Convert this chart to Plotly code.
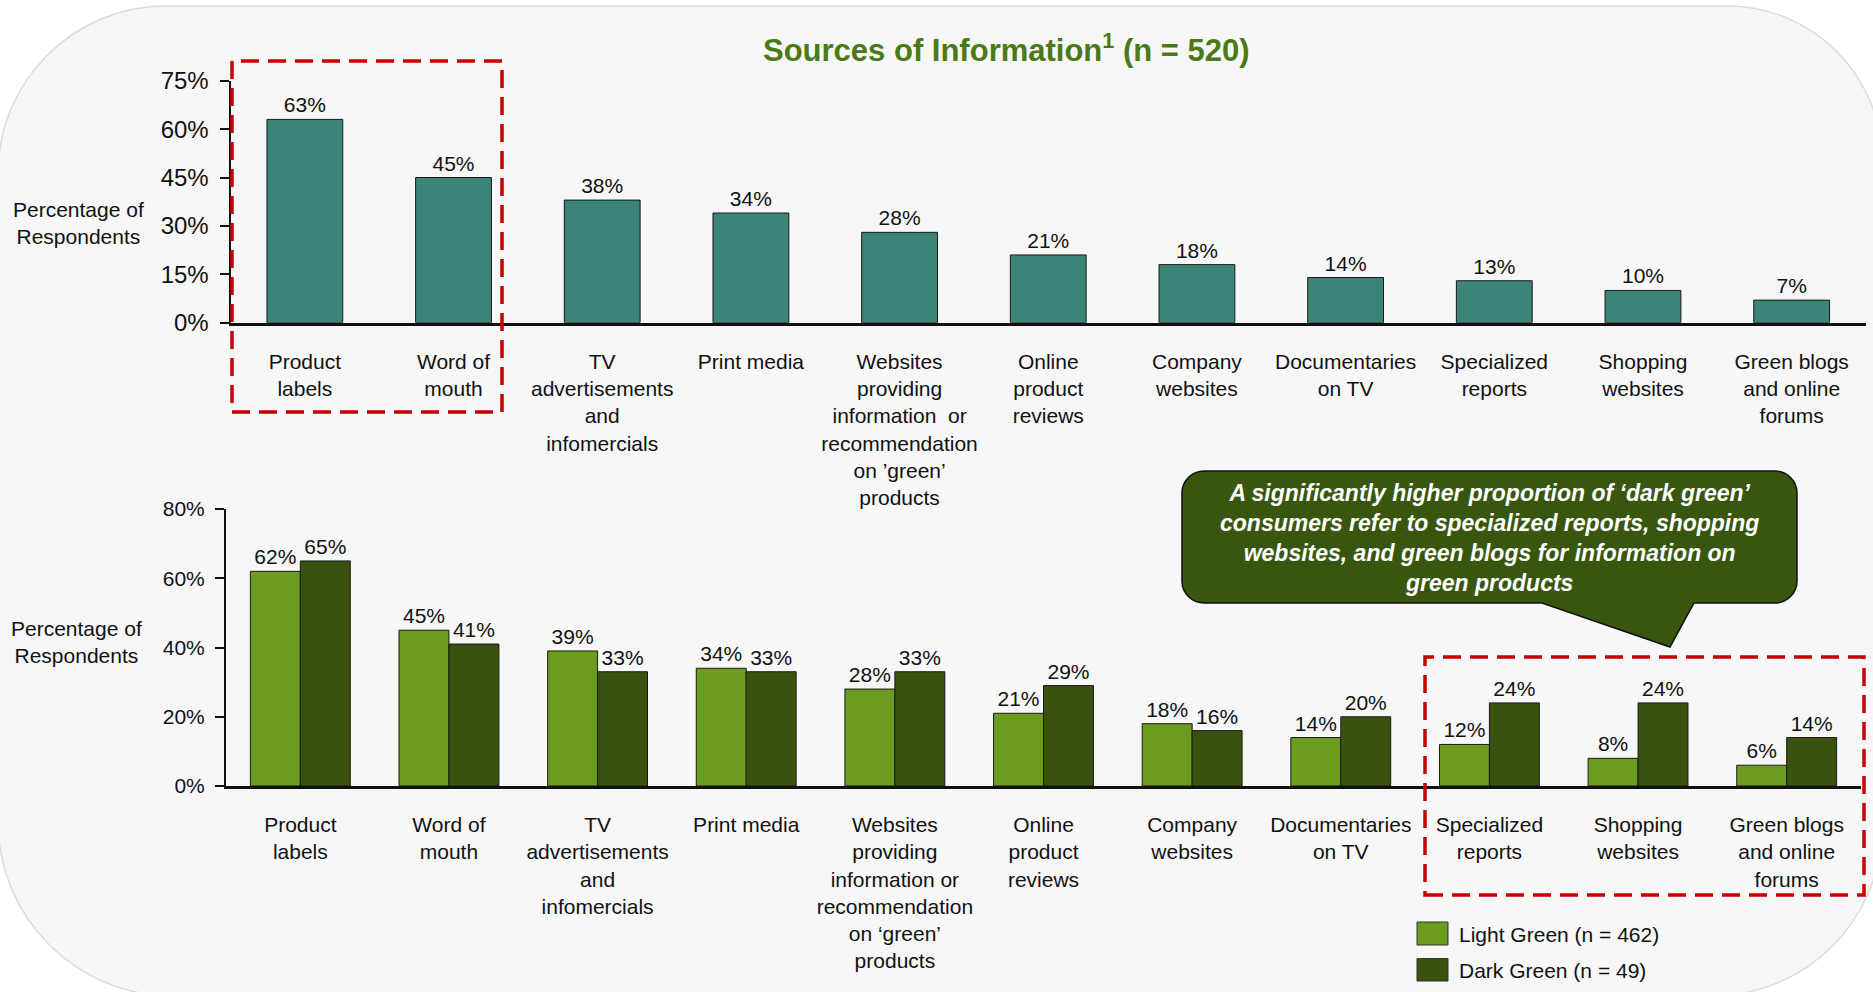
import plotly.graph_objects as go

W, H = 1873, 992

# ---------------- data ----------------
categories = ["Product labels", "Word of mouth", "TV advertisements and infomercials",
              "Print media", "Websites providing information or recommendation on green products",
              "Online product reviews", "Company websites", "Documentaries on TV",
              "Specialized reports", "Shopping websites", "Green blogs and online forums"]

top_ticktext = ["Product<br>labels", "Word of<br>mouth", "TV<br>advertisements<br>and<br>infomercials",
                "Print media", "Websites<br>providing<br>information  or<br>recommendation<br>on \u2019green\u2019<br>products",
                "Online<br>product<br>reviews", "Company<br>websites", "Documentaries<br>on TV",
                "Specialized<br>reports", "Shopping<br>websites", "Green blogs<br>and online<br>forums"]

bottom_ticktext = ["Product<br>labels", "Word of<br>mouth", "TV<br>advertisements<br>and<br>infomercials",
                   "Print media", "Websites<br>providing<br>information or<br>recommendation<br>on \u2018green\u2019<br>products",
                   "Online<br>product<br>reviews", "Company<br>websites", "Documentaries<br>on TV",
                   "Specialized<br>reports", "Shopping<br>websites", "Green blogs<br>and online<br>forums"]

all_respondents = [63, 45, 38, 34, 28, 21, 18, 14, 13, 10, 7]
light_green = [62, 45, 39, 34, 28, 21, 18, 14, 12, 8, 6]
dark_green = [65, 41, 33, 33, 33, 29, 16, 20, 24, 24, 14]

top_ticks = [0, 15, 30, 45, 60, 75]
bottom_ticks = [0, 20, 40, 60, 80]

legend_names = ["Light Green (n = 462)", "Dark Green (n = 49)"]

# ---------------- style ----------------
FONT = "Liberation Sans, Arial, sans-serif"
TEAL = "#3a8578"
LIGHT = "#6b9b1f"
DARK = "#39530f"
OUTLINE = "#1a1a1a"
RED = "#c80000"


def px(x):
    return x / W


def py(y):
    return 1 - y / H


def path_from(cmds):
    out = []
    for c in cmds:
        op = c[0]
        coords = [f"{px(x):.5f},{py(y):.5f}" for (x, y) in c[1:]]
        out.append(op + " " + " ".join(coords) if coords else op)
    return " ".join(out)


def rounded_rect_cmds(x0, y0, x1, y1, rtl, rtr, rbr, rbl):
    k = 0.5523
    return [
        ("M", (x0 + rtl, y0)),
        ("L", (x1 - rtr, y0)),
        ("C", (x1 - rtr + k * rtr, y0), (x1, y0 + rtr - k * rtr), (x1, y0 + rtr)),
        ("L", (x1, y1 - rbr)),
        ("C", (x1, y1 - rbr + k * rbr), (x1 - rbr + k * rbr, y1), (x1 - rbr, y1)),
        ("L", (x0 + rbl, y1)),
        ("C", (x0 + rbl - k * rbl, y1), (x0, y1 - rbl + k * rbl), (x0, y1 - rbl)),
        ("L", (x0, y0 + rtl)),
        ("C", (x0, y0 + rtl - k * rtl), (x0 + rtl - k * rtl, y0), (x0 + rtl, y0)),
        ("Z",),
    ]


fig = go.Figure()

# top chart
fig.add_trace(go.Bar(
    x=categories, y=all_respondents, xaxis="x", yaxis="y",
    width=0.51, offset=-0.255,
    marker=dict(color=TEAL, line=dict(color=OUTLINE, width=1)),
    text=[f"{v}%" for v in all_respondents], textposition="outside",
    textfont=dict(family=FONT, size=21, color="#111111"),
    cliponaxis=False, showlegend=False, hoverinfo="x+y", constraintext="none",
))

# bottom chart
fig.add_trace(go.Bar(
    x=categories, y=light_green, xaxis="x2", yaxis="y2", name=legend_names[0],
    width=0.336, offset=-0.336,
    marker=dict(color=LIGHT, line=dict(color=OUTLINE, width=1)),
    text=[f"{v}%" for v in light_green], textposition="outside",
    textfont=dict(family=FONT, size=21, color="#111111"),
    cliponaxis=False, showlegend=False, hoverinfo="x+y", constraintext="none",
))
fig.add_trace(go.Bar(
    x=categories, y=dark_green, xaxis="x2", yaxis="y2", name=legend_names[1],
    width=0.336, offset=0.0,
    marker=dict(color=DARK, line=dict(color=OUTLINE, width=1)),
    text=[f"{v}%" for v in dark_green], textposition="outside",
    textfont=dict(family=FONT, size=21, color="#111111"),
    cliponaxis=False, showlegend=False, hoverinfo="x+y", constraintext="none",
))

xaxis_common = dict(
    type="category", showline=True, linecolor="#111111", linewidth=2.5,
    ticks="", showgrid=False, zeroline=False, tickvals=categories,
    tickfont=dict(family=FONT, size=21, color="#111111"),
    ticklabelstandoff=18, fixedrange=True, automargin=False,
)
yaxis_common = dict(
    showline=True, linecolor="#111111", linewidth=2, ticks="outside",
    ticklen=9, tickwidth=2, tickcolor="#111111", showgrid=False, zeroline=False,
    ticklabelstandoff=6, fixedrange=True, automargin=False,
)

shapes = []
# background rounded panel
shapes.append(dict(
    type="path", xref="paper", yref="paper", layer="below",
    path=path_from(rounded_rect_cmds(-2, 6, 1882, 996, 168, 155, 170, 175)),
    fillcolor="#f7f7f7", line=dict(color="#dcdcdc", width=1.5),
))
# red dashed highlight boxes
shapes.append(dict(type="rect", xref="paper", yref="paper", layer="above",
                   x0=px(232), x1=px(502), y0=py(412), y1=py(61),
                   line=dict(color=RED, width=3.5, dash="18px,9px"), fillcolor="rgba(0,0,0,0)"))
shapes.append(dict(type="rect", xref="paper", yref="paper", layer="above",
                   x0=px(1425), x1=px(1864), y0=py(895), y1=py(657),
                   line=dict(color=RED, width=3.5, dash="18px,9px"), fillcolor="rgba(0,0,0,0)"))
# callout bubble
cx0, cy0, cx1, cy1, r = 1182, 471, 1797, 603, 22
k = 0.5523
callout = [
    ("M", (cx0 + r, cy0)),
    ("L", (cx1 - r, cy0)),
    ("C", (cx1 - r + k * r, cy0), (cx1, cy0 + r - k * r), (cx1, cy0 + r)),
    ("L", (cx1, cy1 - r)),
    ("C", (cx1, cy1 - r + k * r), (cx1 - r + k * r, cy1), (cx1 - r, cy1)),
    ("L", (1694, cy1)),
    ("L", (1670, 647)),
    ("L", (1542, cy1)),
    ("L", (cx0 + r, cy1)),
    ("C", (cx0 + r - k * r, cy1), (cx0, cy1 - r + k * r), (cx0, cy1 - r)),
    ("L", (cx0, cy0 + r)),
    ("C", (cx0, cy0 + r - k * r), (cx0 + r - k * r, cy0), (cx0 + r, cy0)),
    ("Z",),
]
shapes.append(dict(type="path", xref="paper", yref="paper", layer="above",
                   path=path_from(callout), fillcolor="#39560e",
                   line=dict(color="#111111", width=1.5)))
# legend swatches
shapes.append(dict(type="rect", xref="paper", yref="paper", x0=px(1417), x1=px(1448),
                   y0=py(945), y1=py(922), fillcolor=LIGHT, line=dict(color="#333333", width=1)))
shapes.append(dict(type="rect", xref="paper", yref="paper", x0=px(1417), x1=px(1448),
                   y0=py(981), y1=py(958.5), fillcolor=DARK, line=dict(color="#333333", width=1)))

annotations = [
    dict(text="<b>Sources of Information<sup>1</sup> (n = 520)</b>", x=px(1006), y=py(48),
         xref="paper", yref="paper", showarrow=False, xanchor="center", yanchor="middle",
         font=dict(family=FONT, size=31, color="#4b7a15")),
    dict(text="Percentage of<br>Respondents", x=px(78), y=py(223), xref="paper", yref="paper",
         showarrow=False, xanchor="center", yanchor="middle", align="center",
         font=dict(family=FONT, size=21, color="#111111")),
    dict(text="Percentage of<br>Respondents", x=px(76), y=py(642), xref="paper", yref="paper",
         showarrow=False, xanchor="center", yanchor="middle", align="center",
         font=dict(family=FONT, size=21, color="#111111")),
    dict(text="<b><i>A significantly higher proportion of \u2018dark green\u2019<br>"
              "consumers refer to specialized reports, shopping<br>"
              "websites, and green blogs for information on<br>"
              "green products</i></b>",
         x=px(1489), y=py(538), xref="paper", yref="paper", showarrow=False,
         xanchor="center", yanchor="middle", align="center",
         font=dict(family=FONT, size=23, color="#ffffff")),
    dict(text=legend_names[0], x=px(1457), y=py(934), xref="paper", yref="paper", showarrow=False,
         xanchor="left", yanchor="middle", font=dict(family=FONT, size=21, color="#111111")),
    dict(text=legend_names[1], x=px(1457), y=py(970), xref="paper", yref="paper", showarrow=False,
         xanchor="left", yanchor="middle", font=dict(family=FONT, size=21, color="#111111")),
]

fig.update_layout(
    width=W, height=H, autosize=False,
    margin=dict(l=0, r=0, t=0, b=0, pad=0, autoexpand=False),
    paper_bgcolor="#ffffff", plot_bgcolor="rgba(0,0,0,0)",
    barmode="overlay", showlegend=False,
    font=dict(family=FONT, size=21, color="#111111"),
    xaxis=dict(domain=[px(230.5), px(1866)], anchor="y", ticktext=top_ticktext, **xaxis_common),
    yaxis=dict(domain=[py(322.7), py(80.7)], anchor="x", range=[0, 75], tickvals=top_ticks,
               ticktext=[f"{v}%" for v in top_ticks],
               tickfont=dict(family=FONT, size=24, color="#111111"), **yaxis_common),
    xaxis2=dict(domain=[px(226), px(1861)], anchor="y2", ticktext=bottom_ticktext, **xaxis_common),
    yaxis2=dict(domain=[py(786), py(509)], anchor="x2", range=[0, 80], tickvals=bottom_ticks,
                ticktext=[f"{v}%" for v in bottom_ticks],
                tickfont=dict(family=FONT, size=21, color="#111111"), **yaxis_common),
    shapes=shapes, annotations=annotations,
)

fig.write_html("out.html", config={"displayModeBar": False},
               post_script="document.body.style.margin='0';document.body.style.overflow='hidden';")
